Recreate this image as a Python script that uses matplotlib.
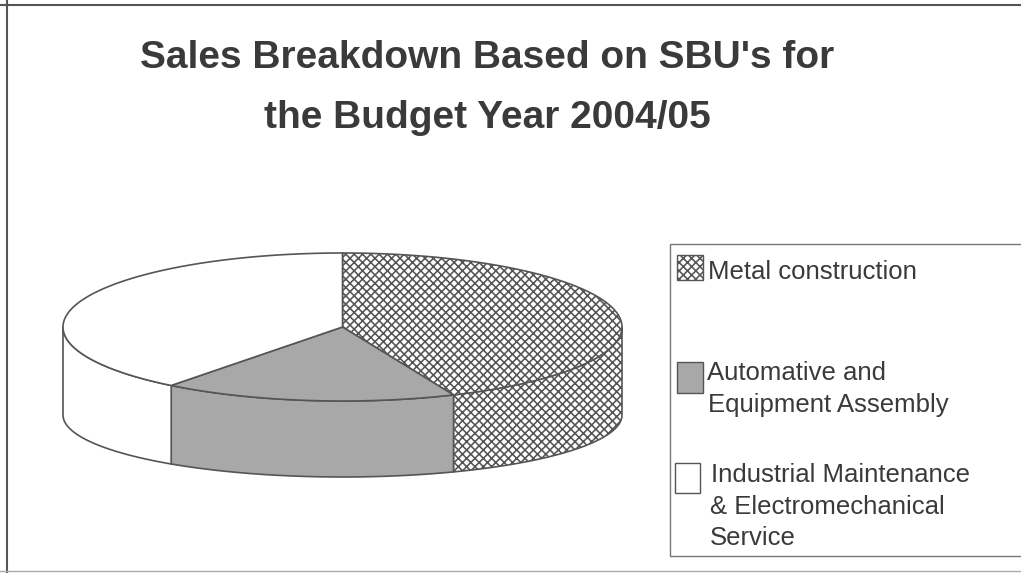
import numpy as np
import matplotlib
matplotlib.use("Agg")
import matplotlib.pyplot as plt
from matplotlib.patches import Polygon, Rectangle
from matplotlib.lines import Line2D

# ---------------- data ----------------
categories = ["Metal construction",
              "Automative and\nEquipment Assembly",
              "Industrial Maintenance\n& Electromechanical\nService"]
shares = [43.5, 17.0, 39.5]   # percent of sales
title_lines = ["Sales Breakdown Based on SBU's for", "the Budget Year 2004/05"]

# ---------------- style ----------------
W, H = 1021, 573
plt.rcParams['font.family'] = ['Liberation Sans', 'DejaVu Sans']
plt.rcParams['hatch.linewidth'] = 1.15
edge = '#555555'
txt = '#3a3a3a'
faces = [dict(facecolor='white', hatch='xxxx'),
         dict(facecolor='#a8a8a8', hatch=None),
         dict(facecolor='white', hatch=None)]

fig = plt.figure(figsize=(W / 100, H / 100), dpi=100)
fig.patch.set_facecolor('white')
ax = fig.add_axes([0, 0, 1, 1])
ax.set_xlim(0, W)
ax.set_ylim(H, 0)
ax.axis('off')

# pie geometry (pixels)
cx, cy = 342.5, 327.0
a, b_top = 279.5, 74.0
depth, b_bot = 88.0, 62.0

def top_pt(t):
    return cx + a * np.cos(t), cy - b_top * np.sin(t)

def bot_pt(t):
    return cx + a * np.cos(t), cy + depth - b_bot * np.sin(t)

total = float(sum(shares))
start = 90.0
bounds = []
for v in shares:
    end = start - 360.0 * v / total
    bounds.append((start, end))
    start = end

# side walls (front half: angles in [-180, 0])
for (s, e), st in zip(bounds, faces):
    lo, hi = min(s, e), max(s, e)
    for shift in (0.0, -360.0, 360.0):
        l2, h2 = max(lo + shift, -180.0), min(hi + shift, 0.0)
        if h2 - l2 <= 0:
            continue
        t = np.radians(np.linspace(l2, h2, 120))
        xt, yt = top_pt(t)
        xb, yb = bot_pt(t[::-1])
        pts = np.column_stack([np.r_[xt, xb], np.r_[yt, yb]])
        ax.add_patch(Polygon(pts, closed=True, edgecolor=edge, linewidth=1.2,
                             zorder=2, **st))

# top faces
for (s, e), st in zip(bounds, faces):
    t = np.radians(np.linspace(s, e, 240))
    xt, yt = top_pt(t)
    pts = np.column_stack([np.r_[cx, xt], np.r_[cy, yt]])
    ax.add_patch(Polygon(pts, closed=True, edgecolor=edge, linewidth=1.2,
                         zorder=3, **st))

# ---------------- title ----------------
for line, yb in zip(title_lines, [68, 128]):
    ax.text(487, yb, line, ha='center', va='baseline', fontsize=28,
            fontweight='bold', color=txt, zorder=5)

# ---------------- legend ----------------
ax.add_patch(Rectangle((670, 244), 400, 312, facecolor='none',
                       edgecolor='#777777', linewidth=1.0, zorder=4))
marker_boxes = [(677, 255, 26, 25), (677, 362, 26, 31), (675, 463, 25, 30)]
text_pos = [[(708, 279)], [(707, 380), (708, 412)],
            [(711, 482), (710, 514), (710, 545)]]
for cat, st, (mx, my, mw, mh), poss in zip(categories, faces, marker_boxes, text_pos):
    ax.add_patch(Rectangle((mx, my), mw, mh, edgecolor=edge, linewidth=1.0,
                           zorder=5, **st))
    for line, (tx, ty) in zip(cat.split('\n'), poss):
        ax.text(tx, ty, line, ha='left', va='baseline', fontsize=18.5,
                color=txt, zorder=5)

# ---------------- frame lines ----------------
ax.add_line(Line2D([0, W], [5, 5], color='#555555', linewidth=1.5))
ax.add_line(Line2D([7, 7], [0, H], color='#555555', linewidth=1.5))
ax.add_line(Line2D([0, W], [571, 571], color='#aaaaaa', linewidth=1.0))

fig.savefig('out.png', dpi=100, facecolor='white')
